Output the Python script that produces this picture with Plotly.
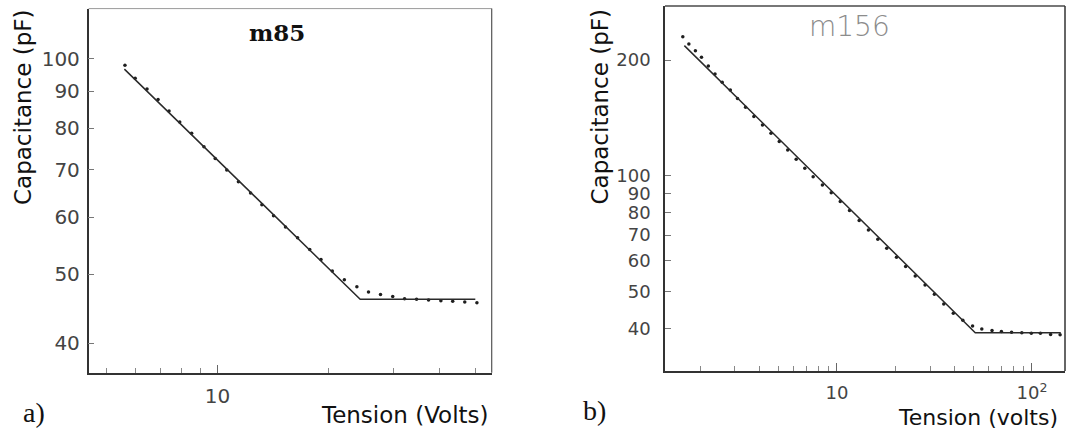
import plotly.graph_objects as go
import math

# ---------------- data: panel a) m85 ----------------
a_volts = [5.61, 5.98, 6.44, 6.90, 7.39, 7.90, 8.51, 9.19, 9.86, 10.6, 11.4, 12.3, 13.2,
           14.2, 15.3, 16.5, 17.8, 19.1, 20.5, 22.1, 23.9, 25.7, 27.7, 29.9, 32.2, 34.7,
           37.4, 40.4, 43.5, 46.9, 50.6]
a_cap = [97.9, 93.9, 90.7, 87.7, 84.5, 81.6, 78.7, 75.3, 72.5, 69.9, 67.3, 64.9, 62.5,
         60.3, 58.2, 56.2, 54.1, 52.4, 50.5, 49.1, 48.0, 47.2, 46.8, 46.5, 46.2, 46.1,
         46.0, 45.9, 45.8, 45.7, 45.6]
a_fit_volts = [5.59, 24.4, 50.1]
a_fit_cap = [96.7, 46.1, 46.1]
a_yticks = [40, 50, 60, 70, 80, 90, 100]
a_xmajor = [10]
a_xmajor_text = ["10"]
a_xminor = [5, 6, 7, 8, 9, 20, 30, 40, 50]

# ---------------- data: panel b) m156 ----------------
b_volts = [1.62, 1.74, 1.88, 2.02, 2.19, 2.37, 2.58, 2.84, 3.09, 3.40, 3.75, 4.15, 4.59,
           5.06, 5.59, 6.18, 6.84, 7.55, 8.42, 9.35, 10.4, 11.6, 13.0, 14.5, 16.2, 18.0,
           20.2, 22.5, 25.2, 28.3, 31.6, 35.3, 39.5, 44.2, 49.6, 55.3, 62.4, 69.7, 78.6,
           88.7, 99.2, 110.5, 124.6, 139.4]
b_cap = [230.1, 220.2, 211.5, 203.3, 193.0, 183.9, 175.0, 167.1, 158.7, 150.7, 142.5,
         135.5, 128.9, 122.7, 116.7, 110.3, 104.5, 99.4, 94.6, 90.3, 85.6, 81.1, 76.4,
         72.2, 68.3, 64.7, 61.3, 58.0, 54.8, 51.9, 49.1, 46.3, 43.8, 42.0, 40.6, 39.9,
         39.5, 39.3, 39.1, 39.0, 38.9, 38.9, 38.6, 38.5]
b_fit_volts = [1.65, 51.2, 140.5]
b_fit_cap = [218.0, 39.0, 39.0]
b_yticks = [40, 50, 60, 70, 80, 90, 100, 200]
b_xmajor = [10, 100]
b_xmajor_text = ["10", "10<sup>2</sup>"]
b_xminor = [2, 3, 4, 5, 6, 7, 8, 9, 20, 30, 40, 50, 60, 70, 80, 90]

W, H = 1073, 432
def px(x):
    return x / W
def py(y):
    return 1 - y / H

fig = go.Figure()

dot_style = dict(color="#1e1e1e", size=3.5)
line_style = dict(color="#2a2a2a", width=1.5)

fig.add_trace(go.Scatter(x=a_volts, y=a_cap, mode="markers", marker=dot_style,
                         xaxis="x", yaxis="y", showlegend=False))
fig.add_trace(go.Scatter(x=a_fit_volts, y=a_fit_cap, mode="lines", line=line_style,
                         xaxis="x", yaxis="y", showlegend=False))
fig.add_trace(go.Scatter(x=b_volts, y=b_cap, mode="markers", marker=dot_style,
                         xaxis="x2", yaxis="y2", showlegend=False))
fig.add_trace(go.Scatter(x=b_fit_volts, y=b_fit_cap, mode="lines", line=line_style,
                         xaxis="x2", yaxis="y2", showlegend=False))

tick_font_a = dict(family="DejaVu Sans", size=20, color="#444")
tick_font_b = dict(family="DejaVu Sans", size=18, color="#444")

common_x = dict(type="log", showgrid=False, zeroline=False, showline=True,
                linecolor="#333", linewidth=1.5, ticks="inside", ticklen=8,
                tickcolor="#666", tickwidth=1, tickmode="array", automargin=False,
                ticklabelstandoff=5)
common_y = dict(type="log", showgrid=False, zeroline=False, showline=True,
                linecolor="#333", linewidth=1.5, ticks="inside", ticklen=6,
                tickcolor="#777", tickwidth=1, tickmode="array", automargin=False)

fig.update_layout(
    width=W, height=H,
    margin=dict(l=0, r=0, t=0, b=0),
    paper_bgcolor="white", plot_bgcolor="white",
    xaxis=dict(common_x, domain=[px(88.6), px(491.7)],
               range=[math.log10(4.47), math.log10(55.5)],
               tickvals=a_xmajor, ticktext=a_xmajor_text, tickfont=tick_font_a,
               minor=dict(tickmode="array", tickvals=a_xminor, ticks="inside",
                          ticklen=5, tickcolor="#888", tickwidth=1),
               anchor="y"),
    yaxis=dict(common_y, domain=[py(372.7), py(8.6)],
               range=[math.log10(36.4), math.log10(117.5)],
               tickvals=a_yticks, ticktext=[str(v) for v in a_yticks],
               tickfont=tick_font_a, ticklabelstandoff=3, anchor="x"),
    xaxis2=dict(common_x, domain=[px(665), px(1065)],
                range=[math.log10(1.313), math.log10(147.7)],
                tickvals=b_xmajor, ticktext=b_xmajor_text, tickfont=tick_font_b,
                minor=dict(tickmode="array", tickvals=b_xminor, ticks="inside",
                           ticklen=5, tickcolor="#888", tickwidth=1),
                anchor="y2"),
    yaxis2=dict(common_y, domain=[py(371), py(6)],
                range=[math.log10(31.0), math.log10(276.5)],
                tickvals=b_yticks, ticktext=[str(v) for v in b_yticks],
                tickfont=tick_font_b, ticklabelstandoff=9, anchor="x2"),
)

# top / right frame lines
fig.add_shape(type="line", xref="x domain", yref="y domain", x0=0, x1=1, y0=1, y1=1,
              line=dict(color="#9a9a9a", width=1))
fig.add_shape(type="line", xref="x domain", yref="y domain", x0=1, x1=1, y0=0, y1=1,
              line=dict(color="#555", width=1.2))
fig.add_shape(type="line", xref="x2 domain", yref="y2 domain", x0=0, x1=1, y0=1, y1=1,
              line=dict(color="#777", width=2))
fig.add_shape(type="line", xref="x2 domain", yref="y2 domain", x0=1, x1=1, y0=0, y1=1,
              line=dict(color="#333", width=1.5))

title_font = dict(family="DejaVu Sans", size=23, color="#111")
anns = [
    dict(text="m85", x=px(277), y=py(33), font=dict(family="DejaVu Serif", size=23,
                                                       color="#111", weight="bold")),
    dict(text="m156", x=px(849), y=py(26.7), font=dict(family="DejaVu Sans", size=28,
                                                          color="#8c8c8c", weight=200)),
    dict(text="a)", x=px(34), y=py(412), font=dict(family="Liberation Serif", size=28,
                                                     color="#111")),
    dict(text="b)", x=px(594), y=py(410), font=dict(family="Liberation Serif", size=28,
                                                      color="#111")),
    dict(text="Tension (Volts)", x=px(490.7), y=py(415), xanchor="right",
         font=title_font),
    dict(text="Tension (volts)", x=px(1060), y=py(417), xanchor="right",
         font=dict(family="DejaVu Sans", size=22, color="#111")),
    dict(text="Capacitance (pF)", x=px(23), y=py(108), textangle=-90, font=title_font),
    dict(text="Capacitance (pF)", x=px(600), y=py(107.5), textangle=-90, font=title_font),
]
for a in anns:
    base = dict(xref="paper", yref="paper", showarrow=False, xanchor="center",
                yanchor="middle")
    base.update(a)
    fig.add_annotation(**base)

fig.write_html("out.html", config={"displayModeBar": False},
               post_script="document.body.style.margin='0';document.body.style.overflow='hidden';")
